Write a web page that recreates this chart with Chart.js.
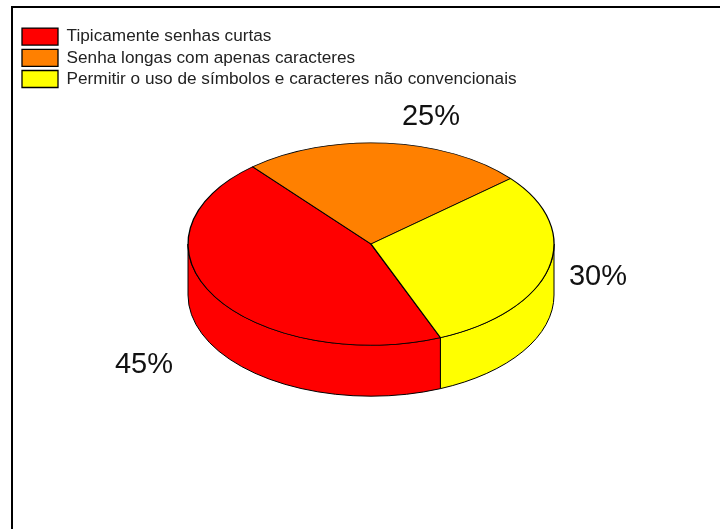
<!DOCTYPE html>
<html>
<head>
<meta charset="utf-8">
<style>
  html, body { margin: 0; padding: 0; background: #fff; overflow: hidden; }
  canvas { display: block; }
</style>
<script src="https://cdn.jsdelivr.net/npm/chart.js@4"></script>
</head>
<body>
<canvas id="chart" width="720" height="529"></canvas>
<script>
const categories = [
  'Tipicamente senhas curtas',
  'Senha longas com apenas caracteres',
  'Permitir o uso de símbolos e caracteres não convencionais',
];
const shares = [45, 25, 30];
const colors = ['#FF0000', '#FF8000', '#FFFF00'];

const SQUASH = 0.553;
const DEPTH = 51;

// chart.js has no 3d pie: squash the arcs and put a wall under them
const pie3d = {
  id: 'pie3d',
  afterLayout(chart) {
    // legend sits in the corner, not where the chart area would put it
    chart.legend.left = 18;
    chart.legend.top = 24;
  },
  beforeDraw(chart) {
    const ctx = chart.ctx;
    ctx.save();
    ctx.strokeStyle = '#000';
    ctx.lineWidth = 2;
    ctx.beginPath();
    ctx.moveTo(12, 529);
    ctx.lineTo(12, 7);
    ctx.lineTo(720, 7);
    ctx.stroke();
    ctx.restore();
  },
  beforeDatasetDraw(chart) {
    const ctx = chart.ctx;
    const arcs = chart.getDatasetMeta(0).data;
    const { x, y, outerRadius: rx } = arcs[0];
    const ry = rx * SQUASH;
    const TAU = Math.PI * 2;

    ctx.save();
    ctx.strokeStyle = '#000';
    ctx.lineWidth = 1;
    arcs.forEach((arc, i) => {
      // only the front half of the rim can be seen
      [0, TAU, -TAU].forEach(shift => {
        const a0 = Math.max(arc.startAngle + shift, 0);
        const a1 = Math.min(arc.endAngle + shift, Math.PI);
        if (a1 <= a0) return;
        ctx.beginPath();
        ctx.ellipse(x, y, rx, ry, 0, a0, a1);
        ctx.ellipse(x, y + DEPTH, rx, ry, 0, a1, a0, true);
        ctx.closePath();
        ctx.fillStyle = colors[i];
        ctx.fill();
        ctx.stroke();
      });
    });
    ctx.restore();

    ctx.save();
    ctx.translate(x, y);
    ctx.scale(1, SQUASH);
    ctx.translate(-x, -y);
  },
  afterDatasetDraw(chart) {
    chart.ctx.restore();
  },
  afterDraw(chart, args, opts) {
    const ctx = chart.ctx;
    ctx.save();
    ctx.fillStyle = '#111';
    ctx.font = '29px "Liberation Sans"';
    ctx.textAlign = 'center';
    ctx.textBaseline = 'middle';
    shares.forEach((v, i) => {
      const p = opts.labelAt[i];
      ctx.fillText(v + '%', p.x, p.y);
    });
    ctx.restore();
  },
};

new Chart(document.getElementById('chart'), {
  type: 'pie',
  plugins: [pie3d],
  data: {
    labels: categories,
    datasets: [{
      data: shares,
      backgroundColor: colors,
      borderColor: '#000',
      borderWidth: 1.3,
      radius: 183,
      clip: false,
    }],
  },
  options: {
    responsive: false,
    animation: false,
    events: [],
    rotation: 157.7,
    layout: { padding: { left: 22, right: 0, top: 24, bottom: 65 } },
    plugins: {
      tooltip: { enabled: false },
      pie3d: {
        labelAt: [{ x: 144, y: 365 }, { x: 431, y: 117 }, { x: 598, y: 277 }],
      },
      legend: {
        position: 'chartArea',
        align: 'start',
        labels: {
          boxWidth: 36,
          boxHeight: 17,
          padding: 4,
          color: '#222',
          font: { family: '"Liberation Sans"', size: 17.2 },
        },
      },
    },
  },
});
</script>
</body>
</html>
